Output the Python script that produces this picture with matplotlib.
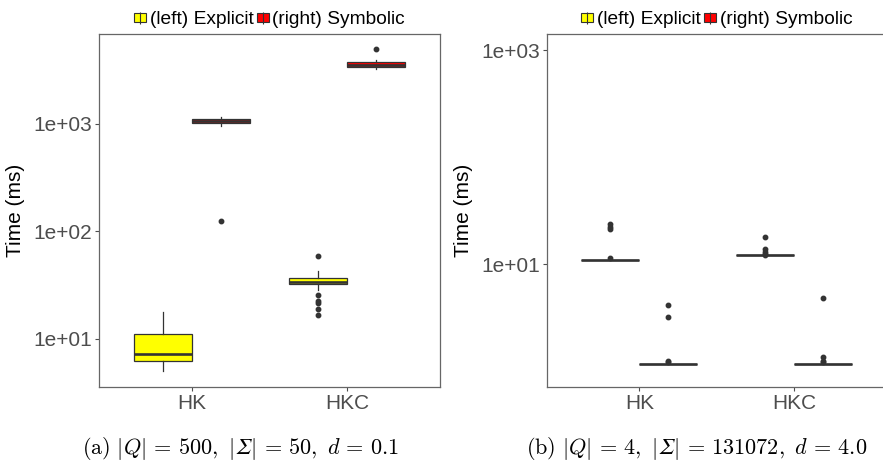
import matplotlib
matplotlib.use('Agg')

import matplotlib.pyplot as plt
from matplotlib.patches import Patch
from matplotlib.lines import Line2D
from matplotlib.ticker import FixedLocator, NullLocator

plt.rcParams['font.family'] = ['Liberation Sans', 'DejaVu Sans']
plt.rcParams['mathtext.fontset'] = 'cm'

kategoriler = ['HK', 'HKC']

# (a) |Q|=500 -- explicit (sol kutu)
a_exp_lo = [5.0, 28.6]
a_exp_q1 = [6.2, 32.3]
a_exp_med = [7.2, 33.9]
a_exp_q3 = [11.2, 36.7]
a_exp_hi = [17.8, 43.0]
a_exp_out = [[], [59.6, 25.8, 22.7, 21.5, 18.9, 16.7]]

# (a) symbolic (sag kutu)
a_sym_lo = [964, 3240]
a_sym_q1 = [1030, 3360]
a_sym_med = [1066, 3560]
a_sym_q3 = [1110, 3760]
a_sym_hi = [1169, 3940]
a_sym_out = [[124], [4950]]

# (b) |Q|=4 -- kutular tek cizgiye inmis
b_exp_med = [11.0, 12.2]
b_exp_out = [[23.6, 22.4, 21.3, 11.5], [17.9, 13.8, 13.1, 12.6, 12.3]]
b_sym_med = [1.18, 1.18]
b_sym_out = [[4.2, 3.24, 1.25, 1.22], [4.87, 1.38, 1.22, 1.25]]

renk_exp = '#FFFF00'
renk_sym = '#FF0000'
koyu = '#333333'
gri = '#4D4D4D'


def istatistik(lo, q1, med, q3, hi, out):
    return [dict(whislo=lo[i], q1=q1[i], med=med[i], q3=q3[i], whishi=hi[i], fliers=out[i])
            for i in range(len(kategoriler))]


def kutu_ciz(ax, stats, kaydir, renk):
    konum = [i + 1 + kaydir for i in range(len(stats))]
    bp = ax.bxp(stats, positions=konum, widths=0.375, patch_artist=True, showcaps=False,
                boxprops=dict(facecolor=renk, edgecolor=koyu, linewidth=0.9),
                medianprops=dict(color=koyu, linewidth=1.9),
                whiskerprops=dict(color=koyu, linewidth=0.9),
                flierprops=dict(marker='o', markerfacecolor=koyu, markeredgecolor=koyu,
                                markersize=3.2, linestyle='none'))
    return bp


def eksen_duzen(ax, ymin, ymax, ytik):
    ax.set_yscale('log')
    ax.set_ylim(ymin, ymax)
    ax.set_xlim(0.4, 2.6)
    ax.yaxis.set_major_locator(FixedLocator(ytik))
    ax.yaxis.set_minor_locator(NullLocator())
    ax.set_yticklabels(['1e+%02d' % len(str(t)[1:]) for t in ytik])
    ax.set_xticks([1, 2])
    ax.set_xticklabels(kategoriler)
    ax.tick_params(axis='both', labelsize=15, labelcolor=gri, color=gri, length=3, width=0.8, pad=2)
    ax.set_ylabel('Time (ms)', fontsize=15, color='black', labelpad=6)
    for s in ax.spines.values():
        s.set_color('#666666')
        s.set_linewidth(0.9)
    anahtar_exp = (Patch(facecolor=renk_exp, edgecolor=koyu, linewidth=0.8),
                   Line2D([], [], marker='|', color=koyu, linestyle='none', markersize=9, markeredgewidth=0.8))
    anahtar_sym = (Patch(facecolor=renk_sym, edgecolor=koyu, linewidth=0.8),
                   Line2D([], [], marker='|', color=koyu, linestyle='none', markersize=9, markeredgewidth=0.8))
    ax.legend([anahtar_exp, anahtar_sym], ['(left) Explicit', '(right) Symbolic'],
              loc='lower center', bbox_to_anchor=(0.5, 1.0), ncol=2, frameon=False,
              fontsize=13.8, handlelength=0.6, handleheight=0.4, handletextpad=0.2,
              columnspacing=0.2, borderpad=0.2, borderaxespad=0.1)


fig = plt.figure(figsize=(8.83, 4.71), dpi=100)
ax1 = fig.add_axes([0.1125, 0.1783, 0.3858, 0.7495])
ax2 = fig.add_axes([0.6191, 0.1783, 0.3854, 0.7495])

kutu_ciz(ax1, istatistik(a_exp_lo, a_exp_q1, a_exp_med, a_exp_q3, a_exp_hi, a_exp_out), -0.1875, renk_exp)
kutu_ciz(ax1, istatistik(a_sym_lo, a_sym_q1, a_sym_med, a_sym_q3, a_sym_hi, a_sym_out), 0.1875, renk_sym)
eksen_duzen(ax1, 3.57, 6870, [10, 100, 1000])

kutu_ciz(ax2, istatistik(b_exp_med, b_exp_med, b_exp_med, b_exp_med, b_exp_med, b_exp_out), -0.1875, renk_exp)
kutu_ciz(ax2, istatistik(b_sym_med, b_sym_med, b_sym_med, b_sym_med, b_sym_med, b_sym_out), 0.1875, renk_sym)
eksen_duzen(ax2, 0.72, 1410, [10, 1000])

fig.text(0.272, 0.047, '$\\mathrm{(a)}\\ |Q|\\,=\\,500,\\ |\U0001D6F4|\\,=\\,50,\\ d\\,=\\,0.1$',
         ha='center', va='center', fontsize=16)
fig.text(0.789, 0.047, '$\\mathrm{(b)}\\ |Q|\\,=\\,4,\\ |\U0001D6F4|\\,=\\,131072,\\ d\\,=\\,4.0$',
         ha='center', va='center', fontsize=16)

fig.savefig('out.png', dpi=100)
